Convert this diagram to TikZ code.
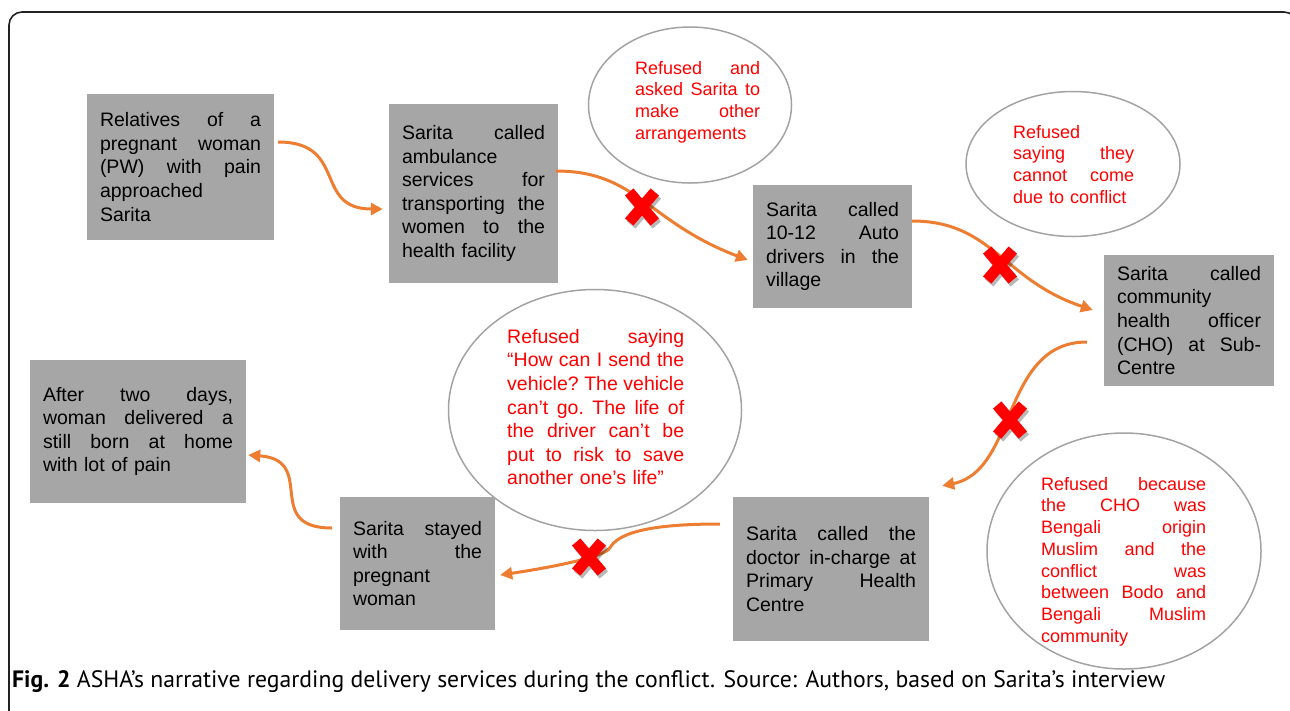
\documentclass[tikz,border=0pt]{standalone}
\usepackage{fontspec}
\usepackage{graphicx}
\setmainfont{Liberation Sans}
\newfontfamily\capfont{PT Sans}
\usetikzlibrary{shapes.geometric,arrows.meta,calc}
\definecolor{boxgray}{HTML}{A6A6A6}
\definecolor{ellgray}{HTML}{A3A3A3}
\definecolor{arroworange}{HTML}{ED7D31}
\definecolor{xred}{HTML}{FF0000}
\definecolor{framecol}{HTML}{222222}
\newcommand\jsp{\nobreak\hskip .2em plus 1fill\relax}
\tikzset{
  box/.style={fill=boxgray, inner xsep=13pt, inner ysep=0pt, align=left,
    font=\fontsize{19.5}{23.6}\selectfont, text=black},
  ell/.style={ellipse, draw=ellgray, line width=1.5pt, inner sep=0pt},
  etext/.style={text=xred, align=left, inner sep=0pt, anchor=north west},
  smalltxt/.style={font=\fontsize{18}{21.7}\selectfont},
  bigtxt/.style={font=\fontsize{19.5}{23.6}\selectfont},
  link/.style={draw=arroworange, line width=3pt, -{Triangle[length=12pt,width=12pt]}},
  redx/.pic={
    \draw[black, opacity=0.28, line width=11pt] (-10.8,-12) -- (14.8,18) (-10.8,18) -- (14.8,-12);
    \draw[xred, line width=11pt] (-12.8,-15) -- (12.8,15) (-12.8,15) -- (12.8,-15);
  }
}
\begin{document}
\begin{tikzpicture}[x=1pt,y=-1pt]
\useasboundingbox (0,0) rectangle (1290,710);
\begin{scope}
\clip (0,0) rectangle (1290,710);
\draw[framecol, line width=1.6pt, rounded corners=13pt] (9,740) -- (9,12) -- (1297,12) -- (1297,740);
\end{scope}

% ellipses
\node[ell, minimum width=203pt, minimum height=156pt] (e1) at (690,105) {};
\node[ell, minimum width=214pt, minimum height=145pt] (e2) at (1073,164) {};
\node[ell, minimum width=293pt, minimum height=241pt] (e3) at (595,410) {};
\node[ell, minimum width=274pt, minimum height=236pt] (e4) at (1124,551) {};

\node[etext, smalltxt, text width=125pt] (t1) at (635,61) {Refused\jsp and\\asked\jsp Sarita\jsp to\\make\jsp other\\arrangements};
\node[etext, smalltxt, text width=121pt] (t2) at (1013,125) {Refused\\saying\jsp they\\cannot\jsp come\\due to conflict};
\node[etext, bigtxt, text width=177pt] (t3) at (507,329) {Refused\jsp saying\\“How\jsp can\jsp I\jsp send\jsp the\\vehicle?\jsp The\jsp vehicle\\can’t\jsp go.\jsp The\jsp life\jsp of\\the\jsp driver\jsp can’t\jsp be\\put\jsp to\jsp risk\jsp to\jsp save\\another one’s life”};
\node[etext, smalltxt, text width=165pt] (t4) at (1041,477) {Refused\jsp because\\the\jsp CHO\jsp was\\Bengali\jsp origin\\Muslim\jsp and\jsp the\\conflict\jsp was\\between\jsp Bodo\jsp and\\Bengali\jsp Muslim\\community};

% boxes
\node[box, text width=161pt, minimum height=146pt] (A) at (180.5,167) {Relatives\jsp of\jsp a\\pregnant\jsp woman\\(PW)\jsp with\jsp pain\\approached\\Sarita};
\node[box, text width=143pt, minimum height=179pt] (B) at (473.5,193.5) {Sarita\jsp called\\ambulance\\services\jsp for\\transporting\jsp the\\women\jsp to\jsp the\\health facility};
\node[box, text width=133pt, minimum height=123pt] (C) at (832.5,246.5) {Sarita\jsp called\\10-12\jsp Auto\\drivers\jsp in\jsp the\\village};
\node[box, text width=144pt, minimum height=131pt] (D) at (1189,320.5) {Sarita\jsp called\\community\\health\jsp officer\\(CHO)\jsp at\jsp Sub-\\Centre};
\node[box, text width=170pt, minimum height=144pt] (E) at (831,569) {Sarita\jsp called\jsp the\\doctor\jsp in-charge\jsp at\\Primary\jsp Health\\Centre};
\node[box, text width=129pt, minimum height=133pt] (F) at (417.5,563.5) {Sarita\jsp stayed\\with\jsp the\\pregnant\\woman};
\node[box, text width=190pt, minimum height=143pt] (G) at (138,431.5) {After\jsp two\jsp days,\\woman\jsp delivered\jsp a\\still\jsp born\jsp at\jsp home\\with lot of pain};

% connectors
\draw[link] ($(A.east)+(4,-25)$) .. controls +(70,0) and +(-70,0) .. ($(B.west)+(-6,15.5)$);
\draw[link] ($(B.east)+(-2,-22.5)$) .. controls +(80,0) and +(-100,-38) .. ($(C.west)+(-5,13.5)$);
\draw[link] ($(C.east)+(0,-25.5)$) .. controls +(80,0) and +(-90,-30) .. ($(D.west)+(-11,-10.5)$);
\draw[link] ($(D.west)+(-17,21.5)$) .. controls +(-85,0) and +(75,-15) .. ($(E.north east)+(13,-11)$);
\coordinate (k5) at ($(E.west)+(-123,-21)$);
\draw[link] ($(E.west)+(-13,-45)$) .. controls +(-75,0) and +(8,-14) .. (k5) .. controls +(-6,10) and +(40,-6) .. ($(F.east)+(5,11.5)$);
\draw[link] ($(F.west)+(-8,-35.5)$) .. controls +(-70,0) and +(70,5) .. ($(G.east)+(2,23.5)$);

% crosses
\pic at (642,207) {redx};
\pic at (1000,265) {redx};
\pic at (1010,420) {redx};
\pic at (589,557) {redx};

% caption
\node[anchor=base west, inner sep=0pt] (cap) at (12,687) {\resizebox{1153pt}{!}{\capfont\fontsize{19}{22}\selectfont\textbf{Fig. 2} ASHA’s narrative regarding delivery services during the conflict. Source: Authors, based on Sarita’s interview}};
\end{tikzpicture}
\end{document}
